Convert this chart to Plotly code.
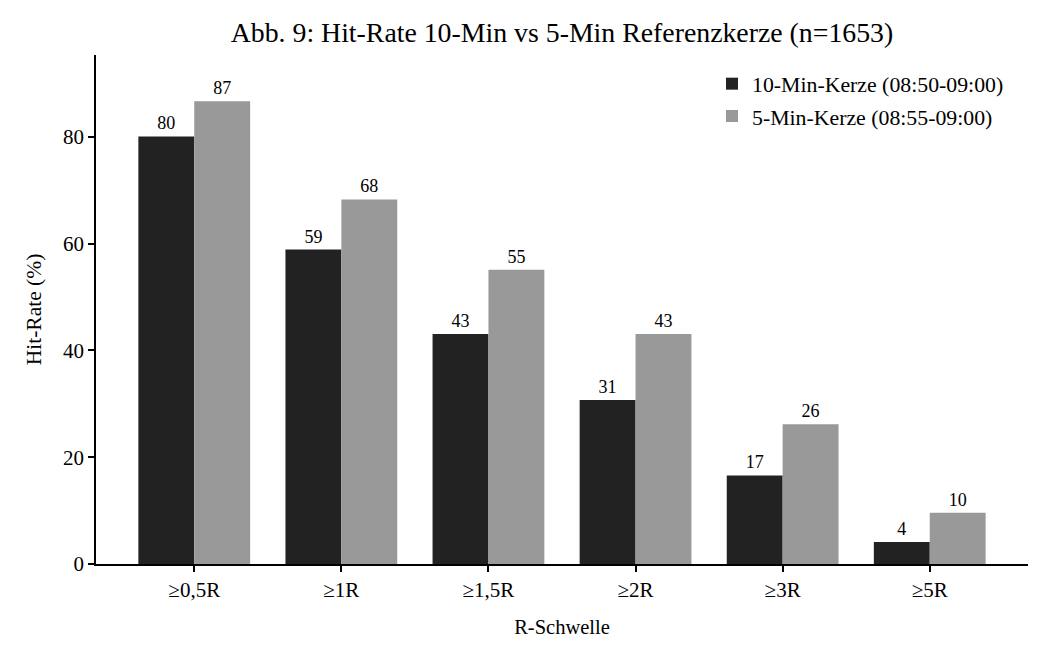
import plotly.graph_objects as go

categories = ["≥0,5R", "≥1R", "≥1,5R", "≥2R", "≥3R", "≥5R"]
hit_10min = [80.1, 58.9, 43.1, 30.7, 16.6, 4.1]
hit_5min = [86.7, 68.3, 55.1, 43.1, 26.2, 9.6]
series_names = ["10-Min-Kerze (08:50-09:00)", "5-Min-Kerze (08:55-09:00)"]

FONT = "Liberation Serif, Times New Roman, serif"

fig = go.Figure()
fig.add_trace(go.Bar(
    x=categories, y=hit_10min, name=series_names[0], legendgroup="a",
    marker=dict(color="#222222", line=dict(width=0)),
    texttemplate="%{y:.0f}", textposition="outside",
    textfont=dict(family=FONT, size=18, color="black"),
    cliponaxis=False,
))
fig.add_trace(go.Bar(
    x=categories, y=hit_5min, name=series_names[1], legendgroup="b",
    marker=dict(color="#999999", line=dict(width=0)),
    texttemplate="%{y:.0f}", textposition="outside",
    textfont=dict(family=FONT, size=18, color="black"),
    cliponaxis=False,
))

fig.update_layout(
    width=1046, height=659,
    margin=dict(l=96, r=18, t=55, b=95),
    paper_bgcolor="white", plot_bgcolor="white",
    font=dict(family=FONT, size=20, color="black"),
    barmode="group", bargap=0.24, bargroupgap=0,
    title=dict(text="Abb. 9: Hit-Rate 10-Min vs 5-Min Referenzkerze (n=1653)",
               xref="paper", x=0.5, xanchor="center", y=1 - 32/659, yanchor="middle",
               font=dict(family=FONT, size=27.8)),
    legend=dict(x=(712 - 96) / 932, xanchor="left", y=1 - (63 - 55) / 509, yanchor="top",
                font=dict(family=FONT, size=21.8), bgcolor="rgba(0,0,0,0)",
                tracegroupgap=1),
    showlegend=True,
)
fig.update_xaxes(
    range=[-0.668, 5.668], showline=True, linecolor="black", linewidth=1.5,
    ticks="outside", ticklen=6, tickwidth=1.5, tickcolor="black",
    tickfont=dict(family=FONT, size=21),
    title=dict(text="R-Schwelle", font=dict(family=FONT, size=20.5), standoff=19),
    showgrid=False, zeroline=False,
)
fig.update_yaxes(
    range=[0, 95.35], showline=True, linecolor="black", linewidth=1.5,
    ticks="outside", ticklen=6, tickwidth=1.5, tickcolor="black",
    tickvals=[0, 20, 40, 60, 80], tickfont=dict(family=FONT, size=21),
    title=dict(text="Hit-Rate (%)", font=dict(family=FONT, size=21.5), standoff=16),
    showgrid=False, zeroline=False,
)

fig.write_html("out.html")
